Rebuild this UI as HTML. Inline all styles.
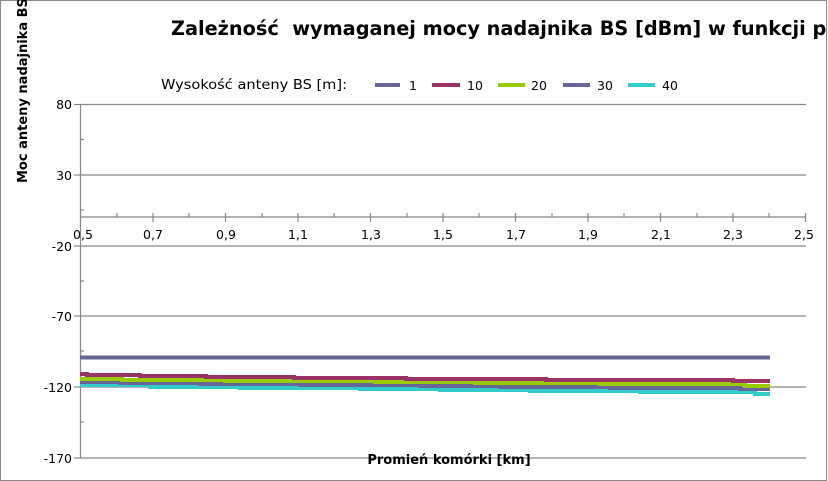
<!DOCTYPE html>
<html><head><meta charset="utf-8"><style>
html,body{margin:0;padding:0;background:#fff;}
svg{display:block;font-family:"DejaVu Sans","Liberation Sans",sans-serif;}
</style></head><body>
<svg width="828" height="481" viewBox="0 0 828 481" xmlns="http://www.w3.org/2000/svg">
<rect x="0" y="0" width="828" height="481" fill="#fff"/>
<line x1="0" y1="0.5" x2="828" y2="0.5" stroke="#888"/>
<line x1="0.5" y1="0" x2="0.5" y2="481" stroke="#888"/>
<line x1="0" y1="480.5" x2="828" y2="480.5" stroke="#888"/>
<text x="171" y="35" font-size="19.3" font-weight="bold" fill="#000">Zależność&#160; wymaganej mocy nadajnika BS [dBm] w funkcji p</text>
<rect x="827" y="0" width="1" height="481" fill="#fff"/>
<line x1="826.5" y1="0" x2="826.5" y2="481" stroke="#888"/>
<text x="161" y="89" font-size="13.5" fill="#000" textLength="186" lengthAdjust="spacingAndGlyphs">Wysokość anteny BS [m]:</text>
<g stroke-width="4">
<line x1="375" y1="85" x2="400" y2="85" stroke="#666699"/>
<line x1="432" y1="85" x2="460" y2="85" stroke="#993366"/>
<line x1="498" y1="85" x2="525" y2="85" stroke="#99cc00"/>
<line x1="563" y1="85" x2="590" y2="85" stroke="#666699"/>
<line x1="628" y1="85" x2="655" y2="85" stroke="#33cccc"/>
</g>
<g font-size="12.5" fill="#000">
<text x="409" y="90">1</text><text x="467" y="90">10</text><text x="531" y="90">20</text><text x="597" y="90">30</text><text x="662" y="90">40</text>
</g>
<g stroke="#888" stroke-width="1.2">
<line x1="80" y1="104.5" x2="806" y2="104.5"/>
<line x1="80" y1="175" x2="806" y2="175"/>
<line x1="80" y1="246" x2="806" y2="246"/>
<line x1="80" y1="316" x2="806" y2="316"/>
<line x1="80" y1="387" x2="806" y2="387"/>
<line x1="80" y1="458" x2="806" y2="458"/>
<line x1="80.5" y1="104" x2="80.5" y2="458"/>
<line x1="74" y1="104.5" x2="80" y2="104.5"/><line x1="74" y1="175" x2="80" y2="175"/><line x1="74" y1="246" x2="80" y2="246"/><line x1="74" y1="316" x2="80" y2="316"/><line x1="74" y1="387" x2="80" y2="387"/><line x1="74" y1="458" x2="80" y2="458"/>
<line x1="80" y1="139.5" x2="84" y2="139.5"/><line x1="80" y1="210" x2="84" y2="210"/><line x1="80" y1="281" x2="84" y2="281"/><line x1="80" y1="351" x2="84" y2="351"/><line x1="80" y1="422" x2="84" y2="422"/>
<line x1="80" y1="217" x2="806" y2="217"/>
<line x1="80.5" y1="213" x2="80.5" y2="222"/><line x1="153" y1="213" x2="153" y2="222"/><line x1="225.5" y1="213" x2="225.5" y2="222"/><line x1="298" y1="213" x2="298" y2="222"/><line x1="370.5" y1="213" x2="370.5" y2="222"/><line x1="443" y1="213" x2="443" y2="222"/><line x1="515.5" y1="213" x2="515.5" y2="222"/><line x1="588" y1="213" x2="588" y2="222"/><line x1="660.5" y1="213" x2="660.5" y2="222"/><line x1="733" y1="213" x2="733" y2="222"/><line x1="805.5" y1="213" x2="805.5" y2="222"/>
<line x1="117" y1="213" x2="117" y2="217"/><line x1="189" y1="213" x2="189" y2="217"/><line x1="262" y1="213" x2="262" y2="217"/><line x1="334" y1="213" x2="334" y2="217"/><line x1="407" y1="213" x2="407" y2="217"/><line x1="479" y1="213" x2="479" y2="217"/><line x1="552" y1="213" x2="552" y2="217"/><line x1="624" y1="213" x2="624" y2="217"/><line x1="697" y1="213" x2="697" y2="217"/><line x1="769" y1="213" x2="769" y2="217"/>
</g>
<g font-size="12.5" fill="#000" text-anchor="end">
<text x="72" y="109">80</text><text x="72" y="180">30</text><text x="72" y="251">-20</text><text x="72" y="321">-70</text><text x="72" y="392">-120</text><text x="72" y="463">-170</text>
</g>
<g font-size="12.5" fill="#000" text-anchor="middle">
<text x="83" y="239">0,5</text><text x="153" y="239">0,7</text><text x="226" y="239">0,9</text><text x="298" y="239">1,1</text><text x="371" y="239">1,3</text><text x="443" y="239">1,5</text><text x="516" y="239">1,7</text><text x="588" y="239">1,9</text><text x="661" y="239">2,1</text><text x="733" y="239">2,3</text><text x="804" y="239">2,5</text>
</g>
<text x="449" y="464" font-size="13" font-weight="bold" text-anchor="middle">Promień komórki [km]</text>
<text transform="translate(27,183) rotate(-90)" font-size="13" font-weight="bold">Moc anteny nadajnika BS</text>
<g fill="none" stroke-width="4">
<polyline stroke="#33cccc" points="80,385 150,385 150,387 240,387 240,388 360,388 360,389 440,389 440,390 530,390 530,391 640,391 640,392 755,392 755,394 770,394"/>
<polyline stroke="#666699" points="80,382 120,382 120,383 200,383 200,384 300,384 300,385 420,385 420,386 500,386 500,387 610,387 610,388 740,388 740,389 770,389"/>
<polyline stroke="#99cc00" points="80,379 122,379 122,380 225,380 225,381 375,381 375,382 475,382 475,383 600,383 600,384 745,384 745,386 770,386"/>
<polyline stroke="#993366" points="80,374 87,374 87,375 140,375 140,376 206,376 206,377 294,377 294,378 406,378 406,379 546,379 546,380 733,380 733,381 770,381"/>
<line x1="80" y1="357.5" x2="770" y2="357.5" stroke="#666699"/>
</g>
</svg>
</body></html>
